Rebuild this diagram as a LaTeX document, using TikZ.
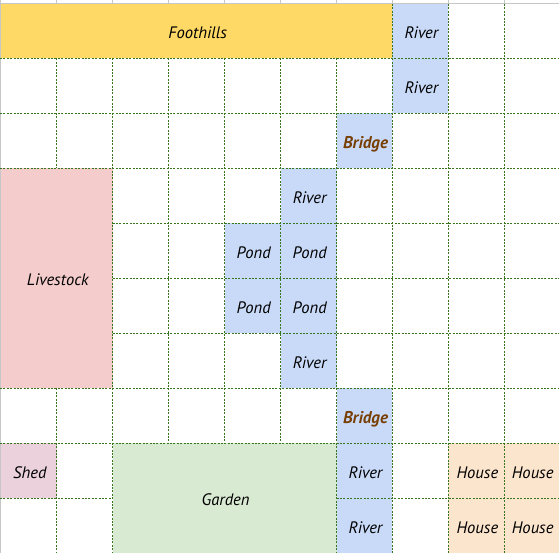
\documentclass[tikz,border=0pt]{standalone}
\usepackage{fontspec}
\setmainfont{PT Sans}
\definecolor{cFoot}{HTML}{FFD966}
\definecolor{cRiver}{HTML}{C9DAF8}
\definecolor{cStock}{HTML}{F4CCCC}
\definecolor{cShed}{HTML}{EAD1DC}
\definecolor{cGarden}{HTML}{D9EAD3}
\definecolor{cHouse}{HTML}{FCE5CD}
\definecolor{cGrid}{HTML}{38761D}
\definecolor{cHead}{HTML}{C6C6C6}
\definecolor{cBridge}{HTML}{783F04}
\tikzset{
  cellbox/.style={inner sep=0pt,outer sep=0pt,font=\itshape\fontsize{16.6}{19}\selectfont,text=black},
  bridgebox/.style={cellbox,yshift=-1.6pt,font=\itshape\bfseries\fontsize{17}{19}\selectfont,text=cBridge},
  gridline/.style={cGrid,line width=1pt,dash pattern=on 2pt off 1.4pt},
  headline/.style={cHead,line width=1pt},
}
% name, x0, y0, x1, y1, fill, node style, label
\newcommand{\region}[8]{%
  \fill[#6] (#2,#3) rectangle (#4,#5);
  \node[#7] (#1) at ({(#2+#4)/2+1},{(#3+#5)/2+1.8}) {#8};
}
\begin{document}
\begin{tikzpicture}[x=1pt,y=-1pt]
\useasboundingbox (0,0) rectangle (559,553);
\fill[white] (0,0) rectangle (559,553);
% column header ticks and top/left edges
\foreach \x in {56.6,112.6,168.6,224.6,280.6,336.6,392.4,448.4,504.4}
  \draw[headline] (\x,0) -- (\x,3.5);
\draw[headline] (0,3.5) -- (559,3.5);
\draw[headline] (0.4,0) -- (0.4,553);
% regions
\region{foot}{1}{4}{392.4}{58.5}{cFoot}{cellbox}{Foothills}
\region{riverA}{392.4}{4}{448.4}{58.5}{cRiver}{cellbox}{River}
\region{riverB}{392.4}{58.5}{448.4}{113.3}{cRiver}{cellbox}{River}
\region{bridgeA}{336.6}{113.3}{392.4}{168.3}{cRiver}{bridgebox}{Bridge}
\region{stock}{1}{168.3}{112.6}{388.3}{cStock}{cellbox}{Livestock}
\region{riverC}{280.6}{168.3}{336.6}{223.3}{cRiver}{cellbox}{River}
\region{pondA}{224.6}{223.3}{280.6}{278.3}{cRiver}{cellbox}{Pond}
\region{pondB}{280.6}{223.3}{336.6}{278.3}{cRiver}{cellbox}{Pond}
\region{pondC}{224.6}{278.3}{280.6}{333.3}{cRiver}{cellbox}{Pond}
\region{pondD}{280.6}{278.3}{336.6}{333.3}{cRiver}{cellbox}{Pond}
\region{riverD}{280.6}{333.3}{336.6}{388.3}{cRiver}{cellbox}{River}
\region{bridgeB}{336.6}{388.3}{392.4}{443.3}{cRiver}{bridgebox}{Bridge}
\region{shed}{1}{443.3}{56.6}{498.3}{cShed}{cellbox}{Shed}
\region{garden}{112.6}{443.3}{336.6}{553}{cGarden}{cellbox}{Garden}
\region{riverE}{336.6}{443.3}{392.4}{498.3}{cRiver}{cellbox}{River}
\region{riverF}{336.6}{498.3}{392.4}{553}{cRiver}{cellbox}{River}
\region{houseA}{448.4}{443.3}{504.4}{498.3}{cHouse}{cellbox}{House}
\region{houseB}{504.4}{443.3}{559}{498.3}{cHouse}{cellbox}{House}
\region{houseC}{448.4}{498.3}{504.4}{553}{cHouse}{cellbox}{House}
\region{houseD}{504.4}{498.3}{559}{553}{cHouse}{cellbox}{House}
% dotted grid
\foreach \y in {58.5,113.3,168.3,388.3,443.3}
  \draw[gridline] (0,\y) -- (559,\y);
\foreach \y in {223.3,278.3,333.3}
  \draw[gridline] (112.6,\y) -- (559,\y);
\draw[gridline] (0,498.3) -- (112.6,498.3);
\draw[gridline] (336.6,498.3) -- (559,498.3);
\draw[gridline] (56.6,58.5) -- (56.6,168.3);
\draw[gridline] (56.6,388.3) -- (56.6,553);
\foreach \x in {112.6,336.6}
  \draw[gridline] (\x,58.5) -- (\x,553);
\foreach \x in {168.6,224.6,280.6}
  \draw[gridline] (\x,58.5) -- (\x,443.3);
\foreach \x in {392.4,448.4,504.4}
  \draw[gridline] (\x,4) -- (\x,553);
\end{tikzpicture}
\end{document}
